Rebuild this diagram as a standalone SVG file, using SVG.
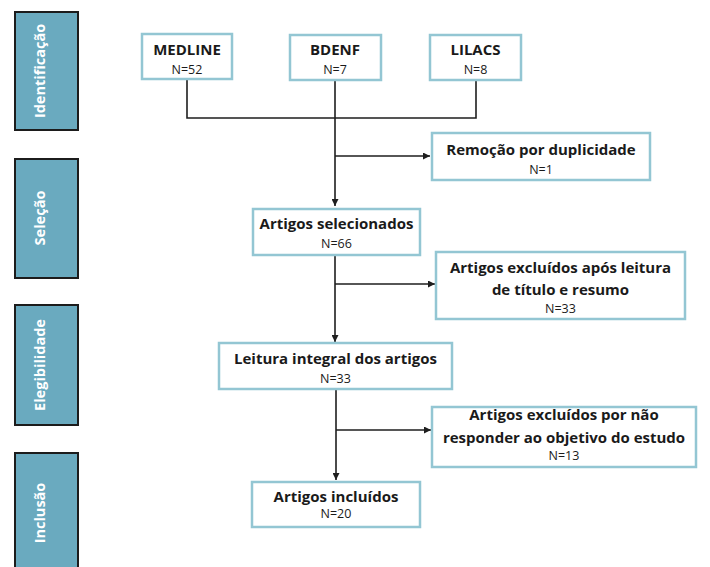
<svg xmlns="http://www.w3.org/2000/svg" width="710" height="567" viewBox="0 0 710 567">
<defs>
<style>
.bar{fill:#6aaabf;stroke:#1c1c1c;stroke-width:2}
.bt{fill:#ffffff;font-family:"Open Sans",sans-serif;font-weight:bold;font-size:14.5px;text-anchor:middle}
.box{fill:#ffffff;stroke:#93c6d3;stroke-width:2.5}
.t{fill:#1a1a1a;font-family:"Open Sans",sans-serif;font-weight:bold;font-size:15px;text-anchor:middle}
.n{fill:#1a1a1a;font-family:"Open Sans",sans-serif;font-size:12.5px;text-anchor:middle}
.ln{fill:none;stroke:#1e1e1e;stroke-width:1.6}
</style>
<marker id="ah" viewBox="0 0 10 10" refX="10" refY="5" markerWidth="7" markerHeight="7" markerUnits="userSpaceOnUse" orient="auto"><path d="M0,0 L10,5 L0,10 z" fill="#1e1e1e"/></marker>
</defs>
<rect width="710" height="567" fill="#ffffff"/>
<g id="phase-identificacao"><rect class="bar" x="15" y="12" width="63" height="118"/><text class="bt" transform="translate(45,71) rotate(-90)">Identificação</text></g>
<g id="phase-selecao"><rect class="bar" x="15" y="159" width="63" height="119"/><text class="bt" transform="translate(45,218) rotate(-90)">Seleção</text></g>
<g id="phase-elegibilidade"><rect class="bar" x="15" y="305" width="63" height="120"/><text class="bt" transform="translate(45,365) rotate(-90)">Elegibilidade</text></g>
<g id="phase-inclusao"><rect class="bar" x="15" y="453" width="63" height="125"/><text class="bt" transform="translate(45,513) rotate(-90)">Inclusão</text></g>
<g id="connectors">
<path class="ln" d="M187,79 V118 H476 V80"/>
<path class="ln" d="M335,81 V206" marker-end="url(#ah)"/>
<path class="ln" d="M335,156 H430" marker-end="url(#ah)"/>
<path class="ln" d="M335,255 V342" marker-end="url(#ah)"/>
<path class="ln" d="M335,284 H435" marker-end="url(#ah)"/>
<path class="ln" d="M336,389 V480" marker-end="url(#ah)"/>
<path class="ln" d="M336,430 H431" marker-end="url(#ah)"/>
</g>
<g id="medline"><rect class="box" x="142" y="34" width="90" height="45"/><text class="t" x="187" y="55">MEDLINE</text><text class="n" x="187" y="74">N=52</text></g>
<g id="bdenf"><rect class="box" x="290" y="35" width="91" height="45"/><text class="t" x="335" y="55">BDENF</text><text class="n" x="335" y="74">N=7</text></g>
<g id="lilacs"><rect class="box" x="430" y="35" width="91" height="45"/><text class="t" x="475.5" y="55">LILACS</text><text class="n" x="475.5" y="74">N=8</text></g>
<g id="remocao"><rect class="box" x="432" y="133" width="218" height="47"/><text class="t" x="541" y="155">Remoção por duplicidade</text><text class="n" x="541" y="174">N=1</text></g>
<g id="selecionados"><rect class="box" x="253" y="209" width="167" height="46"/><text class="t" x="336.5" y="229">Artigos selecionados</text><text class="n" x="336.5" y="248">N=66</text></g>
<g id="excluidos1"><rect class="box" x="436" y="252" width="249" height="67"/><text class="t" x="560.5" y="273">Artigos excluídos após leitura</text><text class="t" x="560.5" y="295">de título e resumo</text><text class="n" x="560.5" y="313">N=33</text></g>
<g id="leitura"><rect class="box" x="219" y="343" width="233" height="46"/><text class="t" x="335.5" y="364">Leitura integral dos artigos</text><text class="n" x="335.5" y="383">N=33</text></g>
<g id="excluidos2"><rect class="box" x="432" y="407" width="264" height="60"/><text class="t" x="564" y="420">Artigos excluídos por não</text><text class="t" x="564" y="443">responder ao objetivo do estudo</text><text class="n" x="564" y="460">N=13</text></g>
<g id="incluidos"><rect class="box" x="252" y="482" width="168" height="45"/><text class="t" x="336" y="502">Artigos incluídos</text><text class="n" x="336" y="518">N=20</text></g>
</svg>
